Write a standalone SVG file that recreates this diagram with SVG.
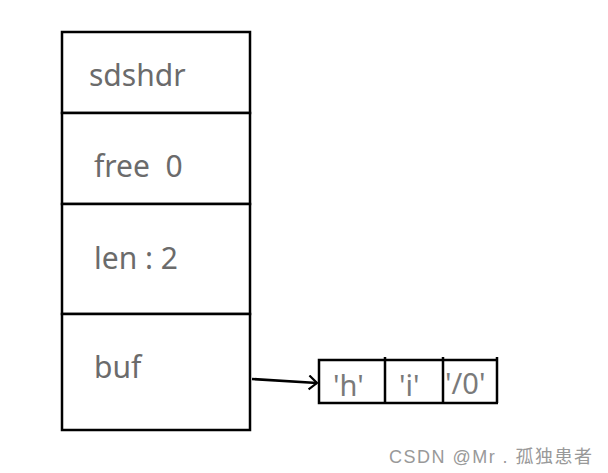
<svg xmlns="http://www.w3.org/2000/svg" width="608" height="473" viewBox="0 0 608 473">
<style>
.box{fill:#fff;stroke:#000;stroke-width:2.5}
.ln{stroke:#000;stroke-width:2.5;fill:none}
.t{font-family:"Noto Sans","DejaVu Sans",sans-serif;fill:#6b6b6b;font-size:30px}
.c{font-family:"Noto Sans","DejaVu Sans",sans-serif;fill:#7a7a7a;font-size:29px}
.w{font-family:"Liberation Sans","Noto Sans CJK SC",sans-serif;fill:#999;font-size:18px}
</style>
<defs>
<marker id="ah" markerWidth="12" markerHeight="16" refX="10" refY="8" orient="auto" markerUnits="userSpaceOnUse">
<path d="M2,1 L10,8 L2,15" fill="none" stroke="#000" stroke-width="2.2"/>
</marker>
</defs>
<rect width="608" height="473" fill="#fff"/>
<g id="sdshdr">
<rect class="box" x="62" y="32" width="188" height="81"/>
<text class="t" x="89" y="86">sdshdr</text>
</g>
<g id="free">
<rect class="box" x="62" y="113" width="188" height="91"/>
<text class="t" x="94" y="177" xml:space="preserve">free  0</text>
</g>
<g id="len">
<rect class="box" x="62" y="204" width="188" height="110"/>
<text class="t" x="94" y="269">len : 2</text>
</g>
<g id="buf">
<rect class="box" x="62" y="314" width="188" height="116"/>
<text class="t" x="94" y="378">buf</text>
</g>
<g id="array">
<path class="ln" d="M498,360 H319 V403 H498"/>
<path class="ln" d="M385,357 V403 M443,357 V403 M497,357 V403"/>
<text class="c" x="333" y="396">'h'</text>
<text class="c" x="399" y="396">'i'</text>
<text class="c" x="445" y="394">'/0'</text>
</g>
<g id="connectors">
<path class="ln" d="M252,379 L317,383" marker-end="url(#ah)"/>
</g>
<text class="w" x="389" y="463" textLength="203" lengthAdjust="spacing">CSDN @Mr . 孤独患者</text>
</svg>
